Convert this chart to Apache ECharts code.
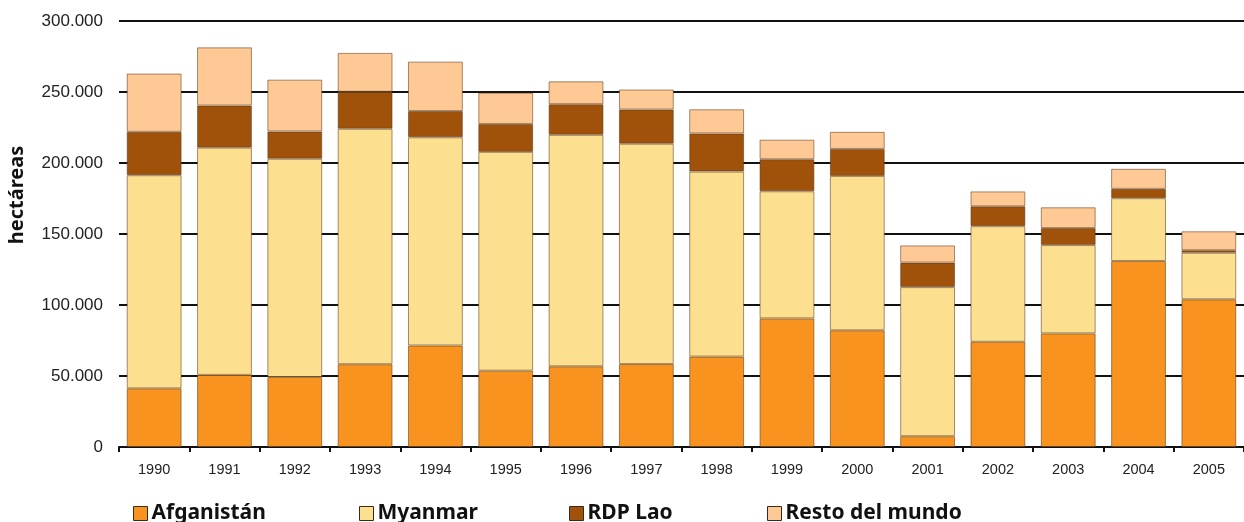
<!DOCTYPE html>
<html><head><meta charset="utf-8">
<script src="https://cdn.jsdelivr.net/npm/echarts@6/dist/echarts.min.js"></script>
<style>html,body{margin:0;padding:0;background:#fff}#c{width:1244px;height:522px}</style>
</head><body><div id="c"></div>
<script>
const years = ['1990','1991','1992','1993','1994','1995','1996','1997','1998','1999','2000','2001','2002','2003','2004','2005'];
const afganistan = [41300,50800,49300,58300,71470,53760,56820,58420,63670,90580,82170,7610,74100,80000,131000,104000];
const myanmar = [150100,160000,153700,165800,146600,154070,163000,155150,130300,89500,108700,105000,81400,62200,44200,32800];
const lao = [30580,29630,19190,26040,18520,19650,21600,24080,26840,22540,19050,17260,14000,12000,6600,1800];
const resto = [41000,41000,36500,27400,34800,22000,16100,14100,17000,13800,12000,12100,10500,14600,14100,13300];
const seriesNames = ['Afganistán','Myanmar','RDP Lao','Resto del mundo'];
const colors = ['#F7931E','#FDE08F','#A0520B','#FFC996'];
const values = [afganistan, myanmar, lao, resto];

const chart = echarts.init(document.getElementById('c'));
const legendX = [133, 359, 569, 767];
chart.setOption({
  animation: false,
  grid: {left: 119, right: 0, top: 21, bottom: 75},
  graphic: [{
    type: 'text', x: 7, y: 195, rotation: Math.PI / 2,
    style: {text: 'hectáreas', fontFamily: 'Noto Sans', fontWeight: 'bold', fontSize: 20, fill: '#111',
      align: 'center', verticalAlign: 'top'}
  }],
  legend: seriesNames.map((n, i) => ({
    data: [n], left: legendX[i], top: 503, itemWidth: 14, itemHeight: 14, itemGap: 8,
    icon: 'rect', padding: 0,
    itemStyle: {borderColor: '#3a2a1a', borderWidth: 1},
    textStyle: {fontFamily: 'Noto Sans', fontWeight: 'bold', fontSize: 21, color: '#111', padding: [0,0,0,-1]}
  })),
  xAxis: {
    type: 'category', data: years, boundaryGap: true,
    axisLine: {lineStyle: {color: '#111', width: 2}},
    axisTick: {show: true, length: 5, lineStyle: {color: '#111', width: 2}},
    axisLabel: {fontFamily: 'Liberation Sans', fontSize: 14.5, color: '#222', margin: 15}
  },
  yAxis: {
    type: 'value', min: 0, max: 300000, interval: 50000,
    axisLine: {show: false}, axisTick: {show: false},
    splitLine: {lineStyle: {color: '#111', width: 2}},
    axisLabel: {fontFamily: 'Liberation Sans', fontSize: 17, color: '#222', margin: 16,
      formatter: v => v === 0 ? '0' : String(v).replace(/\B(?=(\d{3})+(?!\d))/g, '.')}
  },
  series: seriesNames.map((n, i) => ({
    name: n, type: 'bar', stack: 'total', data: values[i], barCategoryGap: '22%',
    itemStyle: {color: colors[i], borderColor: 'rgba(90,55,20,0.55)', borderWidth: 1}
  }))
});
</script></body></html>
